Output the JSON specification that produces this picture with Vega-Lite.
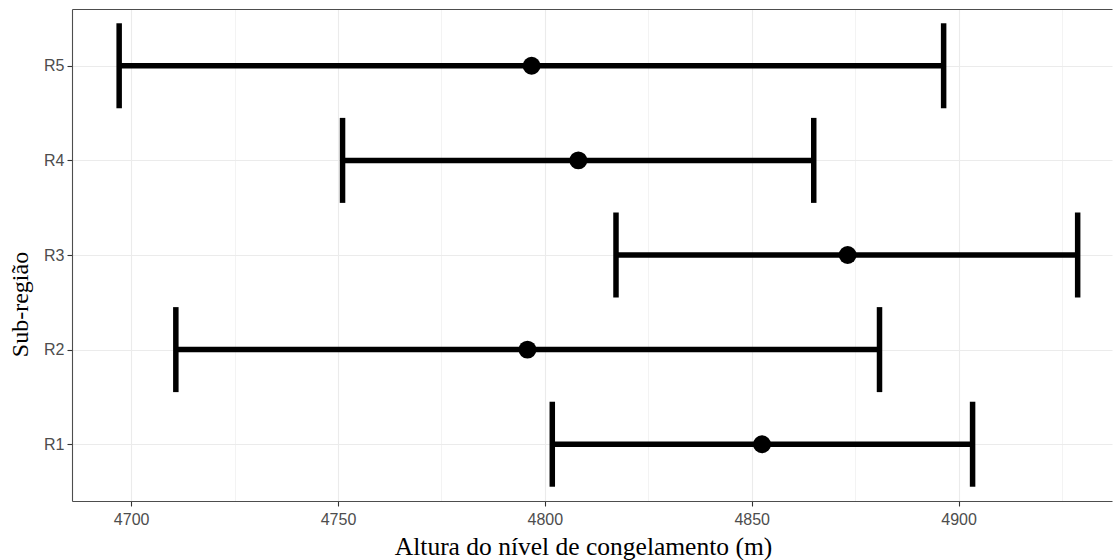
{
  "$schema": "https://vega.github.io/schema/vega-lite/v6.json",
  "width": 1040,
  "height": 492,
  "autosize": "none",
  "padding": {"left": 72, "top": 9, "right": 1, "bottom": 59},
  "background": "white",
  "config": {
    "view": {"stroke": null},
    "axis": {
      "domainColor": "#4d4d4d",
      "domainWidth": 1.1,
      "tickColor": "#333333",
      "tickWidth": 1.1,
      "tickSize": 5,
      "gridColor": "#ebebeb",
      "gridWidth": 1.1,
      "labelFont": "Liberation Sans",
      "labelFontSize": 16,
      "labelColor": "#4d4d4d",
      "titleFont": "Liberation Serif",
      "titleFontWeight": "normal",
      "titleColor": "#000000"
    }
  },
  "data": {
    "values": [
      {"region": "R1", "lo": 4801.8, "mean": 4852.5, "hi": 4903.4},
      {"region": "R2", "lo": 4710.8, "mean": 4795.8, "hi": 4880.9},
      {"region": "R3", "lo": 4817.2, "mean": 4873.2, "hi": 4928.8},
      {"region": "R4", "lo": 4751.1, "mean": 4808.1, "hi": 4865.0},
      {"region": "R5", "lo": 4697.1, "mean": 4796.8, "hi": 4896.4}
    ]
  },
  "encoding": {
    "y": {
      "field": "region",
      "type": "nominal",
      "scale": {"type": "point", "domain": ["R5", "R4", "R3", "R2", "R1"], "padding": 0.6},
      "axis": {
        "title": "Sub-região",
        "titleFontSize": 24,
        "titlePadding": 11,
        "titleY": 295,
        "labelPadding": 3,
        "grid": true
      }
    }
  },
  "layer": [
    {
      "mark": {"type": "rule", "strokeWidth": 5.5, "color": "#000000"},
      "encoding": {
        "x": {
          "field": "lo",
          "type": "quantitative",
          "scale": {"domain": [4685.7, 4937.1], "nice": false, "zero": false},
          "axis": {
            "title": "Altura do nível de congelamento (m)",
            "titleFontSize": 25.5,
            "titlePadding": 7,
            "titleX": 511,
            "labelPadding": 5,
            "format": "d",
            "values": [4700, 4750, 4800, 4850, 4900],
            "grid": true,
            "orient": "bottom"
          }
        },
        "x2": {"field": "hi"}
      }
    },
    {
      "mark": {"type": "tick", "size": 85, "thickness": 5.5, "color": "#000000", "opacity": 1},
      "encoding": {
        "x": {
          "field": "lo",
          "type": "quantitative",
          "axis": {
            "orient": "top",
            "title": null,
            "labels": false,
            "ticks": false,
            "values": [4725, 4775, 4825, 4875, 4925],
            "grid": true,
            "gridWidth": 0.6
          }
        }
      }
    },
    {
      "mark": {"type": "tick", "size": 85, "thickness": 5.5, "color": "#000000", "opacity": 1},
      "encoding": {
        "x": {"field": "hi", "type": "quantitative", "axis": null}
      }
    },
    {
      "mark": {"type": "point", "filled": true, "size": 320, "color": "#000000", "opacity": 1},
      "encoding": {
        "x": {"field": "mean", "type": "quantitative", "axis": null}
      }
    }
  ],
  "resolve": {"axis": {"x": "independent"}}
}
